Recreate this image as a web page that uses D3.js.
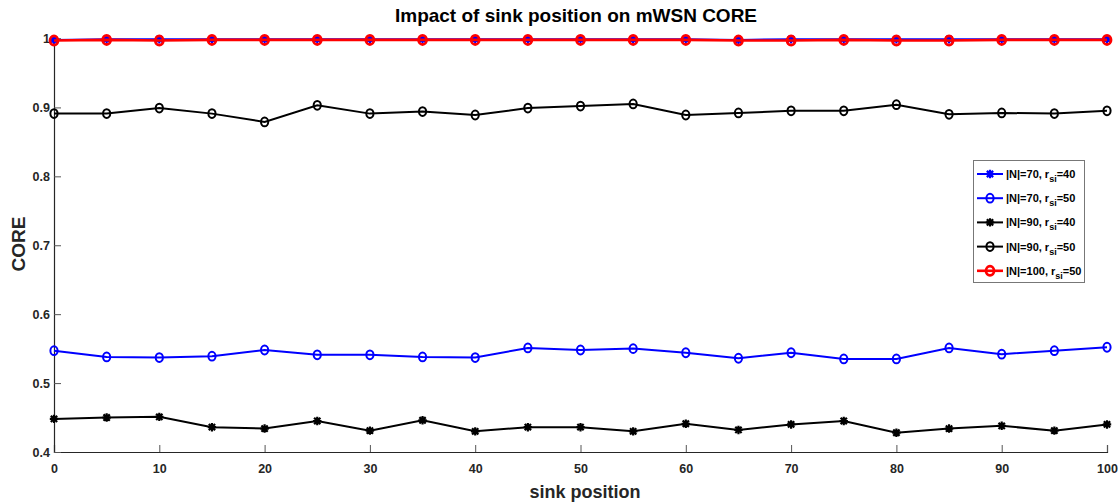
<!DOCTYPE html>
<html>
<head>
<meta charset="utf-8">
<script src="https://cdn.jsdelivr.net/npm/d3@7"></script>
<style>
    body { margin: 0; background: #fff; }
    svg { display: block; }
    text { font-family: "Liberation Sans", Arial, sans-serif; }
</style>
</head>
<body>
<div id="chart"></div>
<script>
// sink positions
var sinkPositions = [0, 5, 10, 15, 20, 25, 30, 35, 40, 45, 50, 55, 60, 65, 70, 75, 80, 85, 90, 95, 100];

var n70r40 = [0.998, 0.999, 0.999, 0.999, 0.999, 0.999, 0.999, 0.999, 0.999, 0.999, 0.999, 0.999, 0.999, 0.998, 0.999, 0.999, 0.999, 0.999, 0.999, 0.999, 0.999];
var n70r50 = [0.547, 0.538, 0.537, 0.539, 0.548, 0.541, 0.541, 0.538, 0.537, 0.551, 0.548, 0.550, 0.544, 0.536, 0.544, 0.535, 0.535, 0.551, 0.542, 0.547, 0.552];
var n90r40 = [0.448, 0.450, 0.451, 0.436, 0.434, 0.445, 0.431, 0.446, 0.430, 0.436, 0.436, 0.430, 0.441, 0.432, 0.440, 0.445, 0.428, 0.434, 0.438, 0.431, 0.440];
var n90r50 = [0.891, 0.891, 0.899, 0.891, 0.879, 0.903, 0.891, 0.894, 0.889, 0.899, 0.902, 0.905, 0.889, 0.892, 0.895, 0.895, 0.904, 0.890, 0.892, 0.891, 0.895];
var n100r50 = [0.997, 0.998, 0.997, 0.998, 0.998, 0.998, 0.998, 0.998, 0.998, 0.998, 0.998, 0.998, 0.998, 0.997, 0.997, 0.998, 0.997, 0.997, 0.998, 0.998, 0.998];

var xTicks = [0, 10, 20, 30, 40, 50, 60, 70, 80, 90, 100];
var yTicks = [0.4, 0.5, 0.6, 0.7, 0.8, 0.9, 1];

var seriesList = [
    { n: "70", r: "40", values: n70r40, color: "#0000ff", marker: "star", width: 2 },
    { n: "70", r: "50", values: n70r50, color: "#0000ff", marker: "circle", width: 2 },
    { n: "90", r: "40", values: n90r40, color: "#000000", marker: "star", width: 2 },
    { n: "90", r: "50", values: n90r50, color: "#000000", marker: "circle", width: 2 },
    { n: "100", r: "50", values: n100r50, color: "#ff0000", marker: "circle", width: 2.6 }
];

var width = 1118, height = 502;
var plotLeft = 54, plotRight = 1107, plotTop = 38.5, plotBottom = 452;

var svg = d3.select("#chart").append("svg").attr("width", width).attr("height", height);

var x = d3.scaleLinear().domain([0, 100]).range([plotLeft, plotRight]);
var y = d3.scaleLinear().domain([0.4, 1]).range([plotBottom, plotTop]);

var axisColor = "#262626";

// x axis, ticks pointing inside
var xAxis = svg.append("g").attr("transform", "translate(0," + plotBottom + ")")
    .call(d3.axisBottom(x).tickValues(xTicks).tickSize(-7).tickPadding(12).tickFormat(d3.format("d")));
// y axis
var yAxis = svg.append("g").attr("transform", "translate(" + plotLeft + ",0)")
    .call(d3.axisLeft(y).tickValues(yTicks).tickSize(-7).tickPadding(4).tickFormat(function (d) { return d === 1 ? "1" : d3.format(".1f")(d); }));

[xAxis, yAxis].forEach(function (g) {
    g.select(".domain").attr("stroke", axisColor).attr("stroke-width", 1.2);
    g.selectAll(".tick line").attr("stroke", "#555");
    g.selectAll(".tick text").attr("fill", axisColor).attr("font-size", 12.5).attr("font-weight", "bold");
});

var line = d3.line()
    .x(function (d, i) { return x(sinkPositions[i]); })
    .y(function (d) { return y(d); });

function drawMarker(g, kind, color, cx, cy, big) {
    if (kind === "circle") {
        g.append("ellipse").attr("cx", cx).attr("cy", cy)
            .attr("rx", big ? 4 : 3.6).attr("ry", big ? 4.6 : 4.4)
            .attr("fill", "none").attr("stroke", color).attr("stroke-width", big ? 2.8 : 2);
    } else {
        var s = 4.2;
        var p = "M" + (cx - s) + "," + cy + "L" + (cx + s) + "," + cy +
            "M" + cx + "," + (cy - s) + "L" + cx + "," + (cy + s) +
            "M" + (cx - s * 0.75) + "," + (cy - s * 0.75) + "L" + (cx + s * 0.75) + "," + (cy + s * 0.75) +
            "M" + (cx - s * 0.75) + "," + (cy + s * 0.75) + "L" + (cx + s * 0.75) + "," + (cy - s * 0.75);
        g.append("path").attr("d", p).attr("stroke", color).attr("stroke-width", 2.2).attr("fill", "none");
    }
}

seriesList.forEach(function (s) {
    var g = svg.append("g");
    g.append("path").datum(s.values).attr("d", line)
        .attr("fill", "none").attr("stroke", s.color).attr("stroke-width", s.width);
    s.values.forEach(function (v, i) {
        drawMarker(g, s.marker, s.color, x(sinkPositions[i]), y(v), s.color === "#ff0000");
    });
});

// title and axis labels
svg.append("text").attr("x", 576).attr("y", 22).attr("text-anchor", "middle")
    .attr("font-size", 19).attr("font-weight", "bold").attr("fill", "#000")
    .text("Impact of sink position on mWSN CORE");
svg.append("text").attr("x", 585).attr("y", 498).attr("text-anchor", "middle")
    .attr("font-size", 18).attr("font-weight", "bold").attr("fill", axisColor)
    .text("sink position");
svg.append("text").attr("transform", "translate(25,244) rotate(-90)").attr("text-anchor", "middle")
    .attr("font-size", 19).attr("font-weight", "bold").attr("fill", axisColor)
    .text("CORE");

// legend
var legend = svg.append("g");
legend.append("rect").attr("x", 973.5).attr("y", 160.5).attr("width", 111).attr("height", 122)
    .attr("fill", "#fff").attr("stroke", "#777").attr("stroke-width", 1);
seriesList.forEach(function (s, i) {
    var ly = 174 + i * 24.2;
    legend.append("line").attr("x1", 977).attr("x2", 1003).attr("y1", ly).attr("y2", ly)
        .attr("stroke", s.color).attr("stroke-width", s.width);
    drawMarker(legend, s.marker, s.color, 990, ly, s.color === "#ff0000");
    var t = legend.append("text").attr("x", 1006).attr("y", ly + 4)
        .attr("font-size", 11).attr("font-weight", "bold").attr("fill", "#000");
    t.append("tspan").text("|N|=" + s.n + ", r");
    t.append("tspan").attr("font-size", 9).attr("dy", 4).text("si");
    t.append("tspan").attr("dy", -4).text("=" + s.r);
});
</script>
</body>
</html>
